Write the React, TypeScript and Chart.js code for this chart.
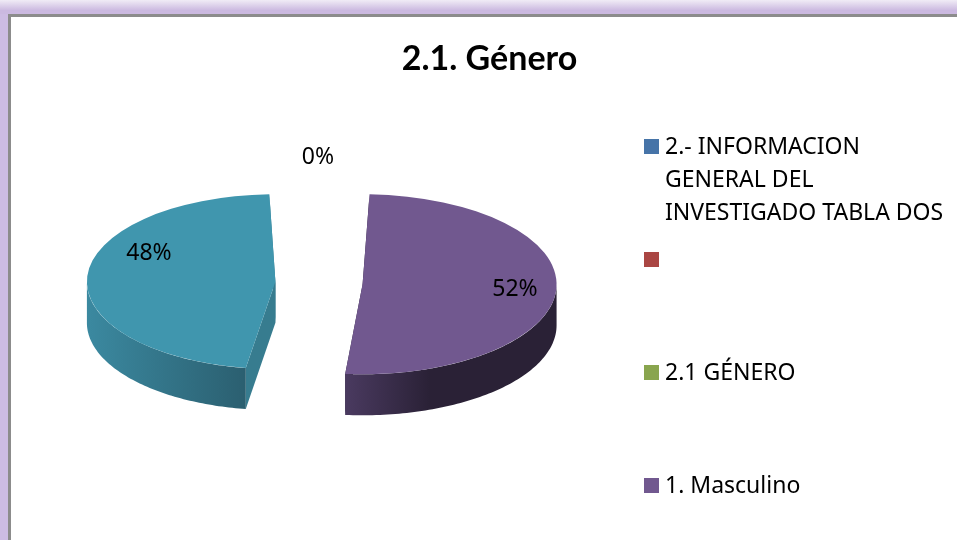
import React, { useEffect, useRef } from "react";
import { Chart, registerables } from "chart.js";

Chart.register(...registerables);

const chartTitle = "2.1. Género";
const categories: string[][] = [
  ["2.- INFORMACION", "GENERAL DEL", "INVESTIGADO TABLA DOS"],
  [""],
  ["2.1 GÉNERO"],
  ["1. Masculino"],
  ["2. Femenino"],
];
const percentValues = [0, 0, 0, 52, 48];
const sliceColors = ["#4674a8", "#aa4643", "#89a54e", "#71588f", "#4096ae"];
const edgeColors = ["#35577e", "#803432", "#677c3b", "#2c2238", "#377c8f"];
const wallDark = ["#35577e", "#803432", "#677c3b", "#2a2136", "#2b5f70"];
const wallLight = ["#35577e", "#803432", "#677c3b", "#4a3a60", "#3b89a0"];
const shownLegendCount = 4;
const shownLabels: Record<number, [number, number]> = {
  2: [318, 157],
  3: [515, 289],
  4: [149, 253],
};
const legendRows = [147, 260, 373, 486];

const FONT = "'Noto Sans', 'Open Sans', sans-serif";
const CANVAS_LEFT = 11;
const PIE_X = 319 - CANVAS_LEFT;
const PIE_Y = 283;
const RADIUS_X = 194;
const RADIUS_Y = 90;
const DEPTH = 41;

const pie3d = {
  id: "pie3d",
  beforeDatasetsDraw(chart: any) {
    const { ctx } = chart;
    const arcs = chart.getDatasetMeta(0).data;
    const base = arcs[0].getProps(["x", "y", "outerRadius"], true);
    const off = (arcs[0].options.offset || 0) / 4;
    const largest = base.outerRadius + off;
    const sx = RADIUS_X / largest;
    const sy = RADIUS_Y / largest;
    const project = (x: number, y: number): [number, number] => [
      PIE_X + (x - base.x) * sx,
      PIE_Y + (y - base.y) * sy,
    ];
    const parts = arcs
      .map((arc: any, i: number) => {
        const p = arc.getProps(["x", "y", "startAngle", "endAngle", "outerRadius", "circumference"], true);
        const mid = (p.startAngle + p.endAngle) / 2;
        // the same geometry the arc element uses when it draws itself
        const grow = off * (1 - Math.sin(Math.min(Math.PI, p.circumference || 0)));
        const R = p.outerRadius + grow;
        const alpha = p.endAngle - p.startAngle;
        const beta = Math.max(0.001, alpha * R - grow / Math.PI) / R;
        const inset = (alpha - beta) / 2;
        return {
          i,
          R,
          from: p.startAngle + inset,
          to: p.endAngle - inset,
          alpha,
          cx: p.x + Math.cos(mid) * off,
          cyy: p.y + Math.sin(mid) * off,
        };
      })
      .filter((p: any) => p.alpha > 0.001);

    parts.forEach((p: any) => {
      const [ax, ay] = project(p.cx, p.cyy);
      [p.from, p.to].forEach((a: number) => {
        const [bx, by] = project(p.cx + Math.cos(a) * p.R, p.cyy + Math.sin(a) * p.R);
        ctx.beginPath();
        ctx.moveTo(ax, ay);
        ctx.lineTo(bx, by);
        ctx.lineTo(bx, by + DEPTH);
        ctx.lineTo(ax, ay + DEPTH);
        ctx.closePath();
        ctx.fillStyle = edgeColors[p.i];
        ctx.fill();
      });
      const pts: [number, number][] = [];
      for (let n = 0; n <= 160; n++) {
        const a = p.from + ((p.to - p.from) * n) / 160;
        if (Math.sin(a) >= 0) pts.push(project(p.cx + Math.cos(a) * p.R, p.cyy + Math.sin(a) * p.R));
      }
      if (pts.length < 2) return;
      const xs = pts.map((q) => q[0]);
      const g = ctx.createLinearGradient(Math.min(...xs), 0, Math.max(...xs), 0);
      g.addColorStop(0, wallLight[p.i]);
      if (p.i === 3) g.addColorStop(0.4, wallDark[p.i]);
      g.addColorStop(1, wallDark[p.i]);
      ctx.beginPath();
      pts.forEach((q, n) => (n ? ctx.lineTo(q[0], q[1]) : ctx.moveTo(q[0], q[1])));
      for (let n = pts.length - 1; n >= 0; n--) ctx.lineTo(pts[n][0], pts[n][1] + DEPTH);
      ctx.closePath();
      ctx.fillStyle = g;
      ctx.fill();
    });

    ctx.save();
    ctx.translate(PIE_X, PIE_Y);
    ctx.scale(sx, sy);
    ctx.translate(-base.x, -base.y);
  },
  afterDatasetsDraw(chart: any) {
    const { ctx } = chart;
    ctx.restore();
    ctx.save();
    ctx.font = `23px ${FONT}`;
    ctx.fillStyle = "#000";
    ctx.textAlign = "center";
    ctx.textBaseline = "middle";
    const values = chart.data.datasets[0].data as number[];
    const total = values.reduce((s, v) => s + v, 0);
    Object.entries(shownLabels).forEach(([k, pos]) => {
      const v = values[Number(k)];
      ctx.fillText(`${Math.round((v / total) * 100)}%`, pos[0] - CANVAS_LEFT, pos[1]);
    });
    ctx.restore();
  },
  afterDraw(chart: any) {
    const { ctx } = chart;
    ctx.save();
    ctx.font = `23px ${FONT}`;
    ctx.textAlign = "left";
    ctx.textBaseline = "middle";
    (chart.data.labels as string[][]).slice(0, shownLegendCount).forEach((lines, i) => {
      const y = legendRows[i];
      ctx.fillStyle = sliceColors[i];
      ctx.fillRect(644 - CANVAS_LEFT, y - 8, 15, 15);
      ctx.fillStyle = "#000";
      lines.forEach((line, n) => ctx.fillText(line, 665 - CANVAS_LEFT, y + n * 33));
    });
    ctx.restore();
  },
};

export default function App() {
  const ref = useRef<HTMLCanvasElement>(null);
  useEffect(() => {
    document.body.style.margin = "0";
    const chart = new Chart(ref.current as HTMLCanvasElement, {
      type: "pie",
      data: {
        labels: categories as any,
        datasets: [
          {
            data: percentValues,
            backgroundColor: sliceColors,
            borderWidth: 0,
            offset: 168,
            clip: false,
          } as any,
        ],
      },
      options: {
        responsive: false,
        animation: false,
        rotation: 0,
        plugins: {
          legend: { display: false },
          tooltip: { enabled: false },
          title: {
            display: true,
            text: chartTitle,
            color: "#000",
            font: { family: "Lato, sans-serif", size: 34, weight: "bold" },
            padding: { top: 39, bottom: 3 },
          },
        },
      },
      plugins: [pie3d],
    } as any);
    return () => chart.destroy();
  }, []);

  return (
    <div style={{ position: "relative", width: 957, height: 540, overflow: "hidden", background: "#cdbce3" }}>
      <div style={{ position: "absolute", left: 0, top: 0, width: 957, height: 14, background: "linear-gradient(#f0ecf6, #cbb9e0 75%)" }} />
      <div
        style={{
          position: "absolute",
          left: 8,
          top: 14,
          width: 1000,
          height: 600,
          background: "#fff",
          borderLeft: "3px solid #8c8c8c",
          borderTop: "3px solid #8c8c8c",
        }}
      />
      <canvas
        ref={ref}
        width={957}
        height={540}
        style={{ position: "absolute", left: CANVAS_LEFT, top: 0, width: 957, height: 540 }}
      />
    </div>
  );
}
